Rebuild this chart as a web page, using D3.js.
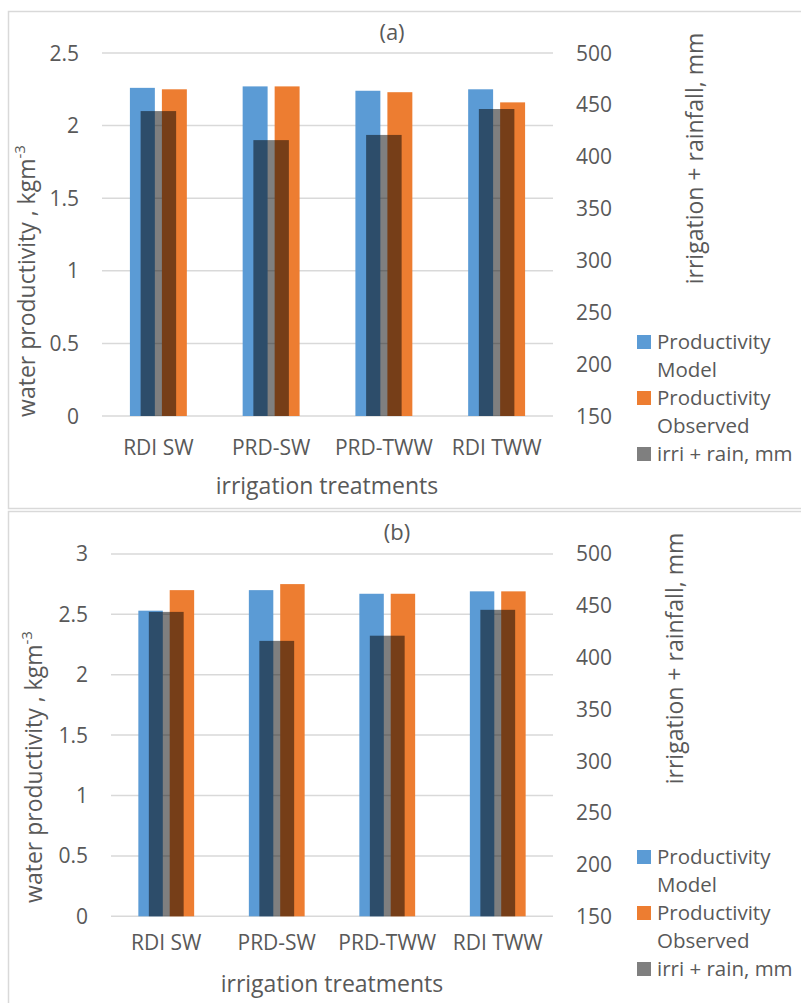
<!DOCTYPE html>
<html>
<head>
  <meta http-equiv="Content-Type" content="text/html;charset=utf-8" />
  <title>Water productivity</title>
  <style>
    body { margin: 0; background: #fff; }
    text { font-family: "Open Sans", sans-serif; fill: #595959; font-variant-ligatures: none; }
  </style>
</head>
<body>
  <div id="chart"></div>
  <script src="https://d3js.org/d3.v7.min.js"></script>
<script>
var W = 801, H = 1003;

// categories + series
var categories = ["RDI SW", "PRD-SW", "PRD-TWW", "RDI TWW"];
var modelA = [2.26, 2.27, 2.24, 2.25];
var observedA = [2.25, 2.27, 2.23, 2.16];
var modelB = [2.53, 2.70, 2.67, 2.69];
var observedB = [2.70, 2.75, 2.67, 2.69];
var irriRain = [444, 416, 421, 446];

var ticksA = [0, 0.5, 1, 1.5, 2, 2.5];
var ticksB = [0, 0.5, 1, 1.5, 2, 2.5, 3];
var ticksRight = [150, 200, 250, 300, 350, 400, 450, 500];
var legendLabels = [["Productivity", "Model"], ["Productivity", "Observed"], ["irri + rain, mm"]];

var colors = ["#5B9BD5", "#ED7D31", "#7F7F7F"];

var svg = d3.select("#chart").append("svg")
  .attr("width", W)
  .attr("height", H);

// one panel = frame + two y axes + grouped bars + overlay bar
function drawPanel(cfg) {
  var g = svg.append("g");

  g.append("rect")
    .attr("x", 8.5).attr("y", cfg.frameY)
    .attr("width", 820).attr("height", cfg.frameH)
    .attr("fill", "none")
    .attr("stroke", "#D9D9D9")
    .attr("stroke-width", 1.5);

  var x = d3.scaleBand().domain(categories).range([cfg.x0, cfg.x1]).padding(0);
  var yL = d3.scaleLinear().domain([0, cfg.ticks[cfg.ticks.length - 1]]).range([cfg.base, cfg.top]);
  var yR = d3.scaleLinear().domain([150, 500]).range([cfg.base, cfg.top]);

  var bw = x.bandwidth();
  var groupW = bw * 0.505;
  var inner = d3.scaleBand().domain([0, 1]).range([-groupW / 2, groupW / 2]).paddingInner(0.22);
  var greyW = bw * 0.315;

  // gridlines
  g.selectAll("line.grid")
    .data(cfg.ticks)
    .enter().append("line")
    .attr("class", "grid")
    .attr("x1", cfg.x0).attr("x2", cfg.x1)
    .attr("y1", function(d) { return yL(d); })
    .attr("y2", function(d) { return yL(d); })
    .attr("stroke", "#D9D9D9")
    .attr("stroke-width", 1.5);

  // left tick labels
  g.selectAll("text.tl")
    .data(cfg.ticks)
    .enter().append("text")
    .attr("class", "tl")
    .attr("x", cfg.leftLabelX)
    .attr("y", function(d) { return yL(d); })
    .attr("dy", "0.36em")
    .attr("text-anchor", "end")
    .attr("font-size", "21px")
    .text(function(d) { return d; });

  // right tick labels
  g.selectAll("text.tr")
    .data(ticksRight)
    .enter().append("text")
    .attr("class", "tr")
    .attr("x", 576)
    .attr("y", function(d) { return yR(d); })
    .attr("dy", "0.36em")
    .attr("font-size", "21px")
    .text(function(d) { return d; });

  // model / observed bars
  [cfg.model, cfg.observed].forEach(function(vals, s) {
    g.selectAll("rect.s" + s)
      .data(vals)
      .enter().append("rect")
      .attr("class", "s" + s)
      .attr("x", function(d, i) { return x(categories[i]) + bw / 2 + inner(s); })
      .attr("width", inner.bandwidth())
      .attr("y", function(d) { return yL(d); })
      .attr("height", function(d) { return yL(0) - yL(d); })
      .attr("fill", colors[s]);
  });

  // irri + rain on secondary axis, drawn over the pair
  g.selectAll("rect.irri")
    .data(irriRain)
    .enter().append("rect")
    .attr("class", "irri")
    .attr("x", function(d, i) { return x(categories[i]) + bw / 2 - greyW / 2; })
    .attr("width", greyW)
    .attr("y", function(d) { return yR(d); })
    .attr("height", function(d) { return yR(150) - yR(d); })
    .attr("fill", "#000")
    .attr("fill-opacity", 0.5);

  // category labels
  g.selectAll("text.cat")
    .data(categories)
    .enter().append("text")
    .attr("class", "cat")
    .attr("x", function(d) { return x(d) + bw / 2; })
    .attr("y", cfg.catY)
    .attr("text-anchor", "middle")
    .attr("font-size", "21px")
    .text(function(d) { return d; });

  g.append("text")
    .attr("x", cfg.xTitleX).attr("y", cfg.xTitleY)
    .attr("text-anchor", "middle")
    .attr("font-size", "23px")
    .text("irrigation treatments");

  g.append("text")
    .attr("x", cfg.titleX).attr("y", cfg.titleY)
    .attr("text-anchor", "middle")
    .attr("font-size", "22px")
    .text(cfg.title);

  var lt = g.append("text")
    .attr("transform", "translate(" + cfg.leftTitle[0] + "," + cfg.leftTitle[1] + ") rotate(-90)")
    .attr("text-anchor", "middle")
    .attr("dy", "0.35em")
    .attr("font-size", "23px");
  lt.append("tspan").text("water productivity , kgm");
  lt.append("tspan").attr("baseline-shift", "super").attr("font-size", "15px").text("-3");

  g.append("text")
    .attr("transform", "translate(" + cfg.rightTitle[0] + "," + cfg.rightTitle[1] + ") rotate(-90)")
    .attr("text-anchor", "middle")
    .attr("dy", "0.35em")
    .attr("font-size", "23px")
    .text("irrigation + rainfall, mm");

  // legend
  var leg = g.selectAll("g.leg")
    .data(legendLabels)
    .enter().append("g")
    .attr("class", "leg")
    .attr("transform", function(d, i) { return "translate(637," + cfg.legendY[i] + ")"; });
  leg.append("rect")
    .attr("x", 0).attr("y", -7)
    .attr("width", 14).attr("height", 14)
    .attr("fill", function(d, i) { return colors[i]; });
  leg.selectAll("text")
    .data(function(d) { return d; })
    .enter().append("text")
    .attr("x", 20)
    .attr("y", function(d, j) { return j * 28; })
    .attr("dy", "0.36em")
    .attr("font-size", "20.5px")
    .text(function(d) { return d; });
}

drawPanel({
  frameY: 11.5, frameH: 497,
  x0: 102, x1: 553, top: 53, base: 416,
  ticks: ticksA, model: modelA, observed: observedA,
  leftLabelX: 79, catY: 455,
  xTitleX: 327, xTitleY: 494,
  title: "(a)", titleX: 392, titleY: 40,
  leftTitle: [27, 281], rightTitle: [695, 158.5],
  legendY: [342, 398, 454]
});

drawPanel({
  frameY: 511.5, frameH: 500,
  x0: 111, x1: 553, top: 553.9, base: 916.3,
  ticks: ticksB, model: modelB, observed: observedB,
  leftLabelX: 88, catY: 950,
  xTitleX: 332, xTitleY: 992,
  title: "(b)", titleX: 397, titleY: 540,
  leftTitle: [34, 767], rightTitle: [675, 658.5],
  legendY: [857, 913, 969]
});
</script>
</body>
</html>
